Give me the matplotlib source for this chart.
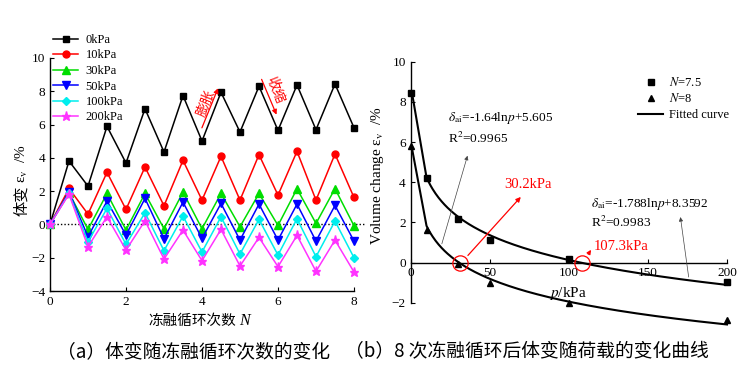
import numpy as np
import matplotlib
matplotlib.use("Agg")
import matplotlib.pyplot as plt
from matplotlib.lines import Line2D

plt.rcParams['font.family'] = ['Liberation Serif', 'Noto Sans CJK SC', 'DejaVu Sans']
plt.rcParams['mathtext.fontset'] = 'stix'

# ---------------- data: left panel ----------------
cycles = [0, 0.5, 1, 1.5, 2, 2.5, 3, 3.5, 4, 4.5, 5, 5.5, 6, 6.5, 7, 7.5, 8]
series_labels = ['0kPa', '10kPa', '30kPa', '50kPa', '100kPa', '200kPa']
ev_0kPa = [0, 3.81, 2.30, 5.89, 3.69, 6.95, 4.35, 7.74, 5.01, 7.94, 5.55, 8.30, 5.65, 8.38, 5.69, 8.44, 5.81]
ev_10kPa = [0, 2.16, 0.62, 3.13, 0.90, 3.45, 1.12, 3.85, 1.46, 4.09, 1.46, 4.19, 1.76, 4.39, 1.46, 4.23, 1.62]
ev_30kPa = [0, 1.90, -0.30, 1.86, -0.34, 1.86, -0.26, 1.94, -0.26, 1.86, -0.14, 1.86, -0.06, 2.14, 0.06, 2.15, -0.08]
ev_50kPa = [0, 1.96, -0.74, 1.40, -0.64, 1.56, -0.86, 1.34, -0.84, 1.26, -0.94, 1.22, -0.94, 1.22, -1.00, 1.14, -1.00]
ev_100kPa = [0, 1.86, -1.04, 0.96, -1.20, 0.70, -1.58, 0.50, -1.66, 0.46, -1.78, 0.30, -1.84, 0.34, -1.94, 0.20, -2.00]
ev_200kPa = [0, 1.82, -1.34, 0.46, -1.54, 0.22, -2.08, -0.34, -2.18, -0.30, -2.50, -0.78, -2.54, -0.66, -2.82, -0.94, -2.86]

# ---------------- data: right panel ----------------
loads = [0, 10, 30, 50, 100, 200]
ev_N75 = [8.44, 4.23, 2.15, 1.14, 0.20, -0.95]
ev_N8 = [5.81, 1.62, -0.08, -1.00, -2.00, -2.86]
fit_slope = [-1.788, -1.64]      # N=7.5, N=8
fit_const = [8.3592, 5.605]
zero_loads = [30.2, 107.3]

W, H = 756, 390
fig = plt.figure(figsize=(W / 100, H / 100), dpi=100)
CJK = ['Noto Sans CJK SC', 'DejaVu Sans']

def fx(px):
    return px / W

def fy(py):
    return 1 - py / H

# ---------------- left axes ----------------
axL = fig.add_axes([fx(50), fy(291), (354 - 50) / W, (291 - 58) / H])
styles = [
    dict(color='#000000', marker='s', ms=4.5),
    dict(color='#ff0000', marker='o', ms=5),
    dict(color='#00dd00', marker='^', ms=5.5),
    dict(color='#0000ff', marker='v', ms=5.5),
    dict(color='#00eeee', marker='D', ms=4.2),
    dict(color='#ff33ff', marker='*', ms=6.5),
]
all_series = [ev_0kPa, ev_10kPa, ev_30kPa, ev_50kPa, ev_100kPa, ev_200kPa]
handles = []
for vals, lab, st in zip(all_series, series_labels, styles):
    h, = axL.plot(cycles, vals, lw=1.1, label=lab, clip_on=False, zorder=3, **st)
    handles.append(h)
axL.plot([0, 8.25], [0, 0], ls=(0, (1, 1.5)), color='k', lw=1.0, clip_on=False, zorder=2)

axL.set_xlim(0, 8)
axL.set_ylim(-4, 10)
axL.set_xticks([0, 2, 4, 6, 8])
axL.set_yticks([-4, -2, 0, 2, 4, 6, 8, 10])
axL.spines['top'].set_visible(False)
axL.spines['right'].set_visible(False)
axL.tick_params(direction='in', labelsize=9.5, length=3, width=0.8)
for s in axL.spines.values():
    s.set_linewidth(1.0)

fig.legend(handles=handles, labels=series_labels, loc='upper left',
           bbox_to_anchor=(fx(53), fy(34)), frameon=False, fontsize=9,
           handlelength=2.0, handletextpad=0.6, labelspacing=0.28,
           borderpad=0, borderaxespad=0)

# arrows and labels 膨胀 / 收缩
axL.annotate('', xy=(4.45, 8.34), xytext=(3.97, 5.65),
             arrowprops=dict(arrowstyle='-|>', color='#ff0000', lw=0.9, mutation_scale=7))
axL.text(4.1, 7.3, '膨胀', color='#ff0000', rotation=68, fontsize=10,
         ha='center', va='center', family=CJK)
axL.annotate('', xy=(5.99, 6.44), xytext=(5.54, 8.87),
             arrowprops=dict(arrowstyle='-|>', color='#ff0000', lw=0.9, mutation_scale=7),
             annotation_clip=False)
axL.text(5.92, 8.1, '收缩', color='#ff0000', rotation=-68, fontsize=10,
         ha='center', va='center', family=CJK)

# left y label: "体变 εv /%"
fig.text(fx(22), fy(201), '体变', rotation=90, ha='center', va='center', fontsize=11, family=CJK)
fig.text(fx(22), fy(183), 'ε$_\\mathrm{v}$  /%', rotation=90, ha='center', va='bottom', fontsize=11)
# left x label: "冻融循环次数 N"
fig.text(fx(236), fy(321), '冻融循环次数', ha='right', va='center', fontsize=10.5, family=CJK)
fig.text(fx(239), fy(321), 'N', ha='left', va='center', fontsize=11.5, style='italic')

# ---------------- right axes ----------------
axR = fig.add_axes([fx(410.7), fy(302.7), (727 - 410.7) / W, (302.7 - 61.7) / H])
axR.plot(loads, ev_N75, ls='none', marker='s', color='k', ms=4.5, clip_on=False, zorder=4)
axR.plot(loads, ev_N8, ls='none', marker='^', color='k', ms=5, clip_on=False, zorder=4)
# fitted curves drawn from p=1 then p>=10 (as in the original figure)
p_fit = np.concatenate([[1.0], np.linspace(10, 200, 300)])
for a, b in zip(fit_slope, fit_const):
    axR.plot(p_fit, a * np.log(p_fit) + b, color='k', lw=1.5, clip_on=False, zorder=3)

axR.set_xlim(0, 200)
axR.set_ylim(-2, 10)
axR.set_xticks([0, 50, 100, 150, 200])
axR.set_yticks([-2, 0, 2, 4, 6, 8, 10])
axR.spines['top'].set_visible(False)
axR.spines['right'].set_visible(False)
axR.spines['bottom'].set_position(('data', 0))
axR.tick_params(direction='in', labelsize=9.5, length=3, width=0.8)
for s in axR.spines.values():
    s.set_linewidth(1.0)

# red circles at zero crossings
for z in zero_loads:
    axR.plot([z + 0.8], [0], marker='o', ms=11, mfc='none', mec='#ff0000', mew=0.9,
             clip_on=False, zorder=5)
axR.annotate('', xy=(70.8, 3.37), xytext=(35.0, 0.25),
             arrowprops=dict(arrowstyle='-|>', color='#ff0000', lw=0.9, mutation_scale=7))
axR.text(74.3, 3.87, '30.2kPa', color='#ff0000', fontsize=10.5, ha='center', va='center')
axR.annotate('', xy=(115.0, 0.75), xytext=(111.3, 0.3),
             arrowprops=dict(arrowstyle='-|>', color='#ff0000', lw=0.9, mutation_scale=6))
axR.text(115.5, 0.8, '107.3kPa', color='#ff0000', fontsize=10.5, ha='left', va='center')

# formula labels
axR.text(23.6, 7.2, '$\\delta_\\mathrm{ai}$=-1.64ln$p$+5.605', fontsize=9.6, ha='left', va='center')
axR.text(23.6, 6.2, 'R$^2$=0.9965', fontsize=9.6, ha='left', va='center')
axR.annotate('', xy=(36.4, 5.45), xytext=(19.2, 0.8),
             arrowprops=dict(arrowstyle='-|>', color='#444444', lw=0.5, mutation_scale=6))
axR.text(113.8, 2.92, '$\\delta_\\mathrm{ai}$=-1.788ln$p$+8.3592', fontsize=9.6, ha='left', va='center')
axR.text(113.8, 1.98, 'R$^2$=0.9983', fontsize=9.6, ha='left', va='center')
axR.annotate('', xy=(170.3, 2.4), xytext=(176.0, -0.86),
             arrowprops=dict(arrowstyle='-|>', color='#444444', lw=0.5, mutation_scale=6))

legR_handles = [
    Line2D([], [], ls='none', marker='s', color='k', ms=4.5),
    Line2D([], [], ls='none', marker='^', color='k', ms=5),
    Line2D([], [], color='k', lw=1.5),
]
fig.legend(handles=legR_handles, labels=['$N$=7.5', '$N$=8', 'Fitted curve'],
           loc='upper left', bbox_to_anchor=(fx(638), fy(76)), frameon=False,
           fontsize=9, handlelength=2.0, handletextpad=0.5, labelspacing=0.28,
           borderpad=0, borderaxespad=0)

fig.text(fx(378), fy(176), 'Volume change ε$_\\mathrm{v}$  /%', rotation=90,
         ha='center', va='center', fontsize=11)
fig.text(fx(568), fy(293), '$p$/kPa', ha='center', va='center', fontsize=11)

# captions
fig.text(fx(194), fy(352), '（a）体变随冻融循环次数的变化', ha='center', va='center',
         fontsize=13.5, family=CJK)
fig.text(fx(526.5), fy(352), '（b）8 次冻融循环后体变随荷载的变化曲线', ha='center', va='center',
         fontsize=13.5, family=CJK)

fig.savefig('out.png', dpi=100)
